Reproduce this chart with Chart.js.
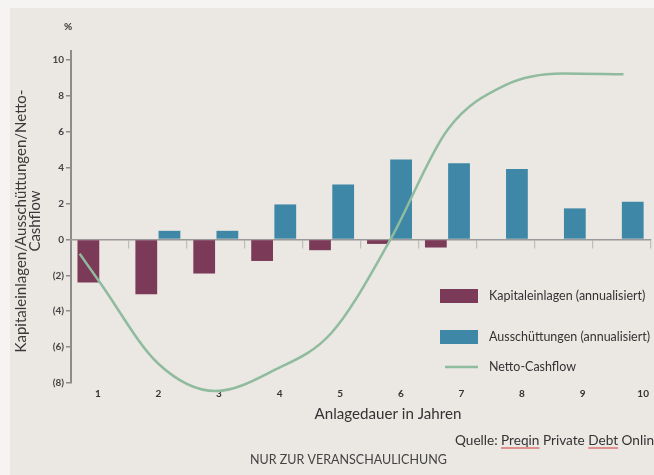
<!DOCTYPE html>
<html><head><meta charset="utf-8">
<script src="https://cdn.jsdelivr.net/npm/chart.js@4/dist/chart.umd.min.js"></script>
<style>html,body{margin:0;padding:0;background:#f6f4f2;}#wrap{width:654px;height:475px;position:relative;overflow:hidden}</style>
</head><body><div id="wrap"><canvas id="c" width="654" height="475"></canvas></div>
<script>
// ---- data ----
const years = [1, 2, 3, 4, 5, 6, 7, 8, 9, 10];
const kapitaleinlagen = [-2.4, -3.05, -1.9, -1.2, -0.6, -0.25, -0.45, null, null, null];
const ausschuettungen = [null, 0.48, 0.48, 1.95, 3.06, 4.46, 4.24, 3.92, 1.73, 2.1];
const cashflowYears = [0.65, 1, 2, 3, 4, 5, 6, 7, 8, 9, 10.04];
const nettoCashflow = [-0.8, -2.4, -6.9, -8.45, -7.3, -5.2, -0.1, 6.1, 8.6, 9.25, 9.2];
const yTickValues = [-8, -6, -4, -2, 0, 2, 4, 6, 8, 10];
const seriesLabels = ['Kapitaleinlagen (annualisiert)', 'Ausschüttungen (annualisiert)', 'Netto-Cashflow'];
const yTitleLines = ['Kapitaleinlagen/Ausschüttungen/Netto-', 'Cashflow'];
const xTitle = 'Anlagedauer in Jahren';
const sourceText = 'Quelle: Preqin Private Debt Online';
const noteText = 'NUR ZUR VERANSCHAULICHUNG';

const COL_K = '#7b3a57';
const COL_A = '#3e87a6';
const COL_N = '#8fbb9e';
const FAM = 'Lato, "Open Sans", sans-serif';

function fitSize(ctx, text, width, weight) {
  ctx.font = weight + ' 20px ' + FAM;
  return 20 * width / ctx.measureText(text).width;
}

const decor = {
  id: 'decor',
  beforeDraw(chart) {
    const ctx = chart.ctx;
    ctx.save();
    ctx.fillStyle = '#f6f4f2';
    ctx.fillRect(0, 0, chart.width, chart.height);
    ctx.fillStyle = '#ebe7e3';
    ctx.fillRect(10, 8, chart.width - 10, chart.height - 8);
    ctx.restore();
  },
  afterDraw(chart) {
    const ctx = chart.ctx;
    ctx.save();
    ctx.fillStyle = '#333';
    ctx.textBaseline = 'middle';
    ctx.font = 'bold 10px ' + FAM;
    ctx.textAlign = 'center';
    ctx.fillText('%', 68, 27);
    const ys = fitSize(ctx, yTitleLines[0], 263, 'normal');
    ctx.font = ys.toFixed(2) + 'px ' + FAM;
    ctx.fillStyle = '#3a3a3a';
    [[yTitleLines[0], 21], [yTitleLines[1], 35]].forEach(([t, x]) => {
      ctx.save();
      ctx.translate(x, 221);
      ctx.rotate(-Math.PI / 2);
      ctx.fillText(t, 0, 0);
      ctx.restore();
    });
    const xs = fitSize(ctx, xTitle, 147, 'normal');
    ctx.font = xs.toFixed(2) + 'px ' + FAM;
    ctx.fillStyle = '#333';
    ctx.fillText(xTitle, 388, 414);
    const ss = fitSize(ctx, 'Quelle: Preqin Private Debt Onlin', 199, 'normal');
    ctx.font = ss.toFixed(2) + 'px ' + FAM;
    ctx.textAlign = 'left';
    ctx.fillText(sourceText, 455, 441);
    const pre = ctx.measureText('Quelle: ').width;
    const wPre = ctx.measureText('Preqin').width;
    const pre2 = ctx.measureText('Quelle: Preqin Private ').width;
    const wDebt = ctx.measureText('Debt').width;
    ctx.strokeStyle = '#d23a3a';
    ctx.lineWidth = 1.2;
    ctx.beginPath();
    ctx.moveTo(455 + pre, 448); ctx.lineTo(455 + pre + wPre, 448);
    ctx.moveTo(455 + pre2, 448); ctx.lineTo(455 + pre2 + wDebt, 448);
    ctx.stroke();
    const ns = fitSize(ctx, noteText, 197, 'normal');
    ctx.font = ns.toFixed(2) + 'px ' + FAM;
    ctx.fillStyle = '#444';
    ctx.fillText(noteText, 250, 460);
    const ls = fitSize(ctx, seriesLabels[2], 87, 'normal');
    ctx.font = ls.toFixed(2) + 'px ' + FAM;
    const ds = chart.data.datasets;
    const rows = [296, 337, 367];
    ds.forEach((d, i) => {
      const y = rows[i];
      if (d.type === 'line') {
        ctx.strokeStyle = d.borderColor;
        ctx.lineWidth = 2.5;
        ctx.beginPath(); ctx.moveTo(445, y); ctx.lineTo(478, y); ctx.stroke();
      } else {
        ctx.fillStyle = d.backgroundColor;
        ctx.fillRect(440, y - 7, 38, 14);
      }
      ctx.fillStyle = '#333';
      ctx.fillText(d.label, 489, y);
    });
    ctx.restore();
  }
};

new Chart(document.getElementById('c'), {
  type: 'bar',
  data: {
    labels: years.map(String),
    datasets: [
      { label: seriesLabels[0], xAxisID: 'xl', yAxisID: 'y', order: 1,
        data: years.map((x, i) => ({ x: x, y: kapitaleinlagen[i] })),
        backgroundColor: COL_K, categoryPercentage: 0.8, barPercentage: 0.94 },
      { label: seriesLabels[1], xAxisID: 'xl', yAxisID: 'y', order: 1,
        data: years.map((x, i) => ({ x: x, y: ausschuettungen[i] })),
        backgroundColor: COL_A, categoryPercentage: 0.8, barPercentage: 0.94 },
      { type: 'line', label: seriesLabels[2], xAxisID: 'xl', yAxisID: 'y', order: 0,
        data: cashflowYears.map((x, i) => ({ x: x, y: nettoCashflow[i] })),
        borderColor: COL_N, borderWidth: 2.5, pointRadius: 0, fill: false,
        cubicInterpolationMode: 'monotone', clip: false }
    ]
  },
  options: {
    responsive: false, animation: false, devicePixelRatio: 1,
    layout: { padding: { top: 51, left: 0, right: 0, bottom: 0 } },
    plugins: { legend: { display: false }, tooltip: { enabled: false } },
    scales: {
      y: {
        axis: 'y', type: 'linear', position: 'left', min: -8, max: 10.5,
        afterBuildTicks: s => { s.ticks = yTickValues.map(v => ({ value: v })); },
        afterFit: s => { s.width = 71; },
        grid: { drawOnChartArea: false, tickLength: 5, color: '#8c8c8c', lineWidth: 1.5 },
        border: { color: '#8c8c8c', width: 2 },
        ticks: { padding: 2, color: '#444', font: { family: FAM, size: 10, weight: 'bold' },
          callback: v => v < 0 ? '(' + (-v) + ')' : String(v) }
      },
      x: {
        axis: 'x', type: 'category', position: { y: 0 }, offset: true,
        grid: { drawOnChartArea: false, offset: true, tickLength: 8, color: '#bdbdbd', lineWidth: 1.2 },
        border: { color: '#9a9a9a', width: 1.5 },
        ticks: { display: false }
      },
      xl: {
        axis: 'x', type: 'linear', position: 'top', offset: false, min: 0.5, max: 10.5,
        afterBuildTicks: s => { s.ticks = years.map(v => ({ value: v })); },
        afterFit: s => { s.height = 0; },
        grid: { display: false, drawTicks: false }, border: { display: false },
        ticks: { display: false }
      },
      xt: {
        axis: 'x', type: 'linear', position: 'bottom', offset: false, min: 0.557, max: 10.115,
        afterBuildTicks: s => { s.ticks = years.map(v => ({ value: v })); },
        afterFit: s => { s.height = 92; },
        grid: { display: false, drawTicks: false },
        border: { display: false },
        ticks: { padding: 5, color: '#333', font: { family: FAM, size: 10, weight: 'bold' },
          maxRotation: 0, autoSkip: false, callback: v => String(v) }
      }
    }
  },
  plugins: [decor]
});
</script></body></html>
